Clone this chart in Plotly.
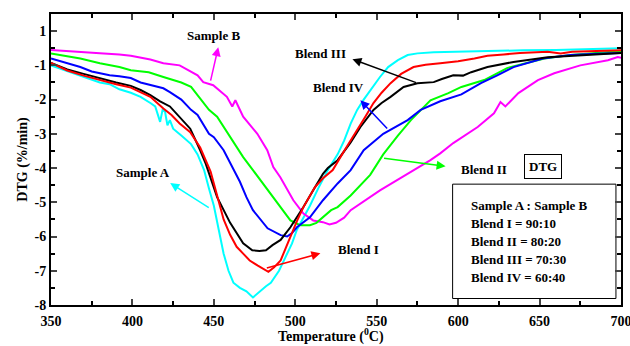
import plotly.graph_objects as go

# ---- data ----
temp_a = [350, 356, 362, 368, 374, 380, 386, 392, 399, 405, 411, 414, 417, 418.5, 420, 421.5, 423, 425, 430, 436,
          440, 444, 447, 450, 453, 456, 459, 462, 466, 470, 474, 478, 482, 485, 490, 494, 498, 501, 505, 509,
          514, 520, 526, 530, 534, 538, 542, 546, 552, 557, 563, 569, 575, 585, 600, 620, 640, 660, 680, 700]
dtg_a = [-1.0, -1.1, -1.2, -1.28, -1.4, -1.5, -1.55, -1.7, -1.8, -1.92, -2.1, -2.2, -2.65, -2.3, -2.35, -2.75, -2.6, -2.85, -3.05, -3.3,
         -3.6, -4.06, -4.6, -5.1, -5.8, -6.5, -7.0, -7.35, -7.5, -7.6, -7.78, -7.6, -7.45, -7.35, -7.0, -6.6, -6.2, -5.8, -5.45, -5.1,
         -4.6, -4.06, -3.6, -3.2, -2.7, -2.3, -2.0, -1.73, -1.34, -1.05, -0.85, -0.7, -0.65, -0.62, -0.6, -0.58, -0.56, -0.55, -0.53, -0.5]

temp_b1 = [350, 360, 370, 380, 390, 399, 405, 411, 419, 424, 429, 435.5, 441.6, 445, 448, 452, 456, 460, 464, 468,
           472, 477, 481, 483.5, 487, 491, 494, 497, 501, 505, 512, 517, 523, 530, 538, 543, 548, 553, 558.5, 565,
           572.6, 580, 589, 600, 610, 618, 628, 638, 655, 663, 670, 680, 690, 700]
dtg_b1 = [-0.93, -1.15, -1.3, -1.43, -1.55, -1.65, -1.78, -1.92, -2.26, -2.45, -2.7, -2.95, -3.4, -3.8, -4.1, -4.8, -5.5, -5.95, -6.3, -6.5,
          -6.7, -6.85, -6.95, -7.03, -6.9, -6.7, -6.35, -6.0, -5.55, -5.14, -4.56, -4.3, -4.06, -3.5, -2.9, -2.5, -2.1, -1.8, -1.52, -1.25,
          -1.05, -0.98, -0.94, -0.88, -0.8, -0.72, -0.68, -0.64, -0.6, -0.65, -0.6, -0.58, -0.57, -0.56]

temp_b3 = [350, 360, 370, 380, 390, 399, 405, 411, 417, 423, 429, 435.5, 441.6, 445, 452, 460, 468, 473.6, 478, 482,
           486, 491, 497, 505, 511, 517, 520, 526, 534, 540, 548, 553, 558.5, 566.5, 575, 585, 590, 597, 603, 608,
           618, 634, 655, 675, 700]
dtg_b3 = [-0.93, -1.12, -1.25, -1.38, -1.5, -1.6, -1.72, -1.87, -2.05, -2.2, -2.5, -2.85, -3.48, -3.87, -4.85, -5.6, -6.2, -6.4, -6.42, -6.4,
          -6.25, -6.1, -5.73, -5.14, -4.65, -4.17, -4.0, -3.77, -3.25, -2.8, -2.3, -2.1, -1.92, -1.63, -1.52, -1.49, -1.4, -1.29, -1.3, -1.2,
          -1.05, -0.9, -0.76, -0.7, -0.64]

temp_b4 = [350, 362, 368, 375, 386, 392, 399, 405, 411, 419, 423, 430, 436, 440, 447, 450, 456, 460, 466, 470,
           474, 483, 491, 495, 498, 501, 509, 517, 526, 534, 542, 554, 569, 577, 589, 602, 614, 624, 634, 652,
           669, 685, 700]
dtg_b4 = [-0.8, -0.98, -1.05, -1.18, -1.29, -1.32, -1.37, -1.5, -1.58, -1.67, -1.78, -2.0, -2.3, -2.45, -3.0, -3.1, -3.48, -3.85, -4.4, -4.85,
          -5.23, -5.76, -5.96, -6.0, -5.9, -5.73, -5.44, -4.94, -4.45, -4.06, -3.48, -3.0, -2.6, -2.3, -2.05, -1.85, -1.52, -1.29, -1.05, -0.8,
          -0.7, -0.66, -0.64]

temp_b2 = [350, 368, 380, 392, 399, 410, 419, 430, 436, 440, 447, 452, 460, 468, 474, 480, 491, 497, 503, 509,
           513, 517, 522, 526, 534, 546, 554, 563, 571, 583, 594, 602, 616, 630, 653, 669, 685, 700]
dtg_b2 = [-0.65, -0.8, -0.94, -1.05, -1.14, -1.2, -1.34, -1.5, -1.63, -1.87, -2.3, -2.5, -3.1, -3.68, -4.06, -4.45, -5.14, -5.53, -5.67, -5.67,
          -5.6, -5.44, -5.23, -5.14, -4.8, -4.2, -3.6, -3.05, -2.6, -2.02, -1.81, -1.63, -1.43, -1.08, -0.8, -0.7, -0.64, -0.58]

temp_s_b = [350, 368, 380, 392, 399, 411, 419, 429, 440, 443.5, 449.6, 458, 461.3, 463.2, 468, 476.7, 482.8, 486.5, 490.8, 498.8,
            505, 511, 517, 521, 525, 530, 534, 552, 573, 583, 589, 597, 612, 622, 626, 629, 637, 649, 659, 675,
            692, 698, 700]
dtg_s_b = [-0.55, -0.62, -0.65, -0.68, -0.72, -0.83, -0.94, -1.0, -1.29, -1.49, -1.58, -1.92, -2.2, -2.02, -2.5, -3.0, -3.48, -3.97, -4.27, -4.94,
           -5.33, -5.53, -5.58, -5.65, -5.6, -5.45, -5.23, -4.65, -4.06, -3.77, -3.57, -3.27, -2.8, -2.4, -2.07, -2.2, -1.81, -1.43, -1.23, -1.0,
           -0.85, -0.76, -0.78]

series = [
    ("Sample A", temp_a, dtg_a, "#00FFFF"),
    ("Sample B", temp_s_b, dtg_s_b, "#FF00FF"),
    ("Blend II", temp_b2, dtg_b2, "#00FF00"),
    ("Blend IV", temp_b4, dtg_b4, "#0000FF"),
    ("Blend III", temp_b3, dtg_b3, "#000000"),
    ("Blend I", temp_b1, dtg_b1, "#FF0000"),
]

y_tickvals = [0, -1, -2, -3, -4, -5, -6, -7, -8]
y_ticktext = ["1", "-1", "-2", "-3", "-4", "-5", "-6", "-7", "-8"]
x_tickvals = [350, 400, 450, 500, 550, 600, 650, 700]

legend_lines = ["Sample A : Sample B", "Blend I = 90:10", "Blend II = 80:20",
                "Blend III = 70:30", "Blend IV = 60:40"]

FONT = "Liberation Serif"

fig = go.Figure()
for name, t, d, c in series:
    fig.add_trace(go.Scatter(x=t, y=d, mode="lines", name=name,
                             line=dict(color=c, width=2), showlegend=False))

ann = []
def label(text, x, y, size=13, **kw):
    ann.append(dict(x=x, y=y, xref="x", yref="y", text="<b>%s</b>" % text, showarrow=False,
                    font=dict(family=FONT, size=size, color="black"), **kw))

def arrow(x0, y0, x1, y1, color):
    ann.append(dict(x=x1, y=y1, ax=x0, ay=y0, xref="x", yref="y", axref="x", ayref="y",
                    text="", showarrow=True, arrowhead=2, arrowsize=1.2, arrowwidth=1.5,
                    arrowcolor=color, standoff=0, startstandoff=0))

label("Sample B", 449.6, -0.12)
arrow(447.8, -1.49, 452.7, -0.47, "#FF00FF")
label("Blend III", 515.4, -0.64)
arrow(575.1, -1.52, 535.1, -0.82, "#000000")
label("Blend IV", 526.5, -1.64)
arrow(557.3, -2.89, 540.0, -2.02, "#0000FF")
label("Blend II", 615.7, -4.04)
arrow(553.6, -3.71, 592.3, -3.95, "#00FF00")
label("Sample A", 406.6, -4.12)
arrow(447.8, -5.18, 423.2, -4.44, "#00FFFF")
label("Blend I", 538.8, -6.37)
arrow(481.6, -6.93, 515.4, -6.49, "#FF0000")

ann.append(dict(x=652, y=-3.95, xref="x", yref="y", text="<b>DTG</b>", showarrow=False,
                font=dict(family=FONT, size=13, color="black"),
                bordercolor="black", borderwidth=1, borderpad=4, bgcolor="white"))

ys = [-5.09, -5.61, -6.14, -6.67, -7.19]
for txt, yy in zip(legend_lines, ys):
    ann.append(dict(x=606.5, y=yy, xref="x", yref="y", text="<b>%s</b>" % txt, showarrow=False,
                    xanchor="left", font=dict(family=FONT, size=13, color="black")))

# x-axis title placed as annotation below the tick labels
ann.append(dict(x=0.491, y=-0.105, xref="paper", yref="paper", text="<b>Temperature (<sup>0</sup>C)</b>",
                showarrow=False, yanchor="middle", font=dict(family=FONT, size=14, color="black")))

fig.add_shape(type="rect", xref="x", yref="y", x0=596.6, x1=696.9, y0=-7.81, y1=-4.47,
              line=dict(color="black", width=1), fillcolor="white", layer="below")

fig.update_layout(
    width=630, height=346,
    margin=dict(l=51, r=9, t=14, b=41),
    plot_bgcolor="white", paper_bgcolor="white",
    annotations=ann,
    font=dict(family=FONT, color="black"),
    xaxis=dict(range=[350, 700], tickvals=x_tickvals, ticks="inside", ticklen=6, tickwidth=1.5,
               showline=True, linecolor="black", linewidth=2, mirror="allticks", showgrid=False, zeroline=False,
               automargin=False, ticklabeloverflow="allow", ticklabelstandoff=2,
               tickfont=dict(family=FONT, size=14, color="black", weight="bold"),
               minor=dict(dtick=25, ticks="inside", ticklen=4, tickwidth=1.5, tickcolor="black")),
    yaxis=dict(range=[-8, 0.5], tickvals=y_tickvals, ticktext=y_ticktext, ticks="inside", ticklen=6, tickwidth=1.5,
               showline=True, linecolor="black", linewidth=2, mirror="allticks", showgrid=False, zeroline=False,
               automargin=False, ticklabeloverflow="allow",
               tickfont=dict(family=FONT, size=14, color="black", weight="bold"),
               minor=dict(dtick=0.5, tick0=0, ticks="inside", ticklen=4, tickwidth=1.5, tickcolor="black"),
               title=dict(text="<b>DTG (%/min)</b>", standoff=4,
                          font=dict(family=FONT, size=14, color="black"))),
)

fig.write_html("out.html")
